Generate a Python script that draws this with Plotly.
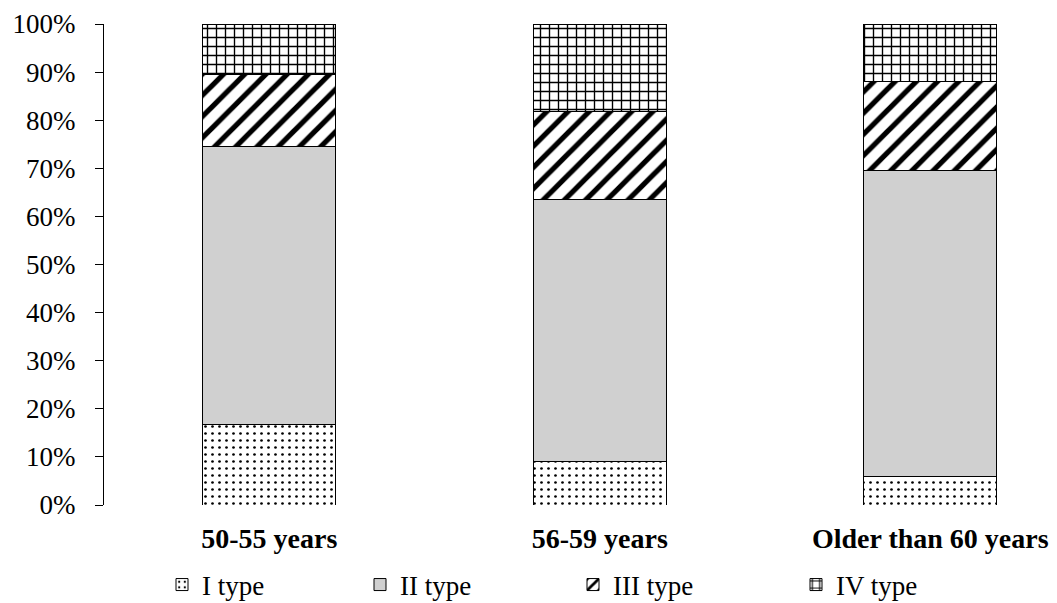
import plotly.graph_objects as go

categories = ["50-55 years", "56-59 years", "Older than 60 years"]
type_i = [16.7, 9.1, 6.0]
type_ii = [57.9, 54.5, 63.6]
type_iii = [14.8, 18.2, 18.4]
type_iv = [10.6, 18.2, 12.0]
series_names = ["I type", "II type", "III type", "IV type"]
y_ticks = [0, 10, 20, 30, 40, 50, 60, 70, 80, 90, 100]

FONT = "Liberation Serif"
# page body has an 8px margin, so the figure is sized to end at the window edge
W, H = 1049, 595
ML, MR, MT, MB = 96, 0, 16, 98
PW = W - ML - MR
PH = H - MT - MB

def px_x(px):
    return (px - ML) / PW

def px_y(py):
    return (H - MB - py) / PH

x_idx = list(range(len(categories)))
styles = [
    dict(color="white", pattern=dict(shape=".", fgcolor="black", bgcolor="white", size=7, solidity=0.12, fgopacity=1, fillmode="overlay")),
    dict(color="#d0d0d0"),
    dict(color="white", pattern=dict(shape="/", fgcolor="black", bgcolor="white", size=15, solidity=0.35, fgopacity=1, fillmode="overlay")),
    dict(color="white", pattern=dict(shape="+", fgcolor="black", bgcolor="white", size=9, solidity=0.28, fgopacity=1, fillmode="overlay")),
]
values = [type_i, type_ii, type_iii, type_iv]
legend_ids = ["legend", "legend2", "legend3", "legend4"]
legend_left_px = [154, 352, 565, 788]

fig = go.Figure()
for name, vals, st, lid in zip(series_names, values, styles, legend_ids):
    marker = dict(line=dict(color="black", width=1), **st)
    fig.add_trace(go.Bar(x=x_idx, y=vals, name=name, marker=marker, width=0.403, legend=lid))

layout_legends = {}
for lid, lx in zip(legend_ids, legend_left_px):
    layout_legends[lid] = dict(
        orientation="h", x=px_x(lx), xanchor="left", y=px_y(577), yanchor="middle",
        font=dict(family=FONT, size=27, color="black"), bgcolor="rgba(0,0,0,0)",
        itemclick=False, itemdoubleclick=False,
    )

fig.update_layout(
    width=W, height=H,
    margin=dict(l=ML, r=MR, t=MT, b=MB, pad=0, autoexpand=False),
    barmode="stack",
    plot_bgcolor="white", paper_bgcolor="white",
    font=dict(family=FONT, color="black"),
    showlegend=True,
    **layout_legends,
)
fig.update_xaxes(
    range=[-0.5, -0.5 + PW / 330.5], automargin=False,
    tickmode="array", tickvals=x_idx, ticktext=categories,
    tickfont=dict(family=FONT, size=28, color="black", weight="bold"),
    showline=False, showgrid=False, zeroline=False, ticks="", ticklabelstandoff=14,
)
fig.update_yaxes(
    range=[0, 100], tickmode="array", tickvals=y_ticks, automargin=False,
    ticktext=[f"{v}%" for v in y_ticks],
    tickfont=dict(family=FONT, size=27, color="black"),
    showline=True, linecolor="black", linewidth=1.2,
    ticks="outside", ticklen=8, tickcolor="black", tickwidth=1.2,
    showgrid=False, zeroline=False, ticklabelstandoff=14,
)
fig.write_html("out.html")
